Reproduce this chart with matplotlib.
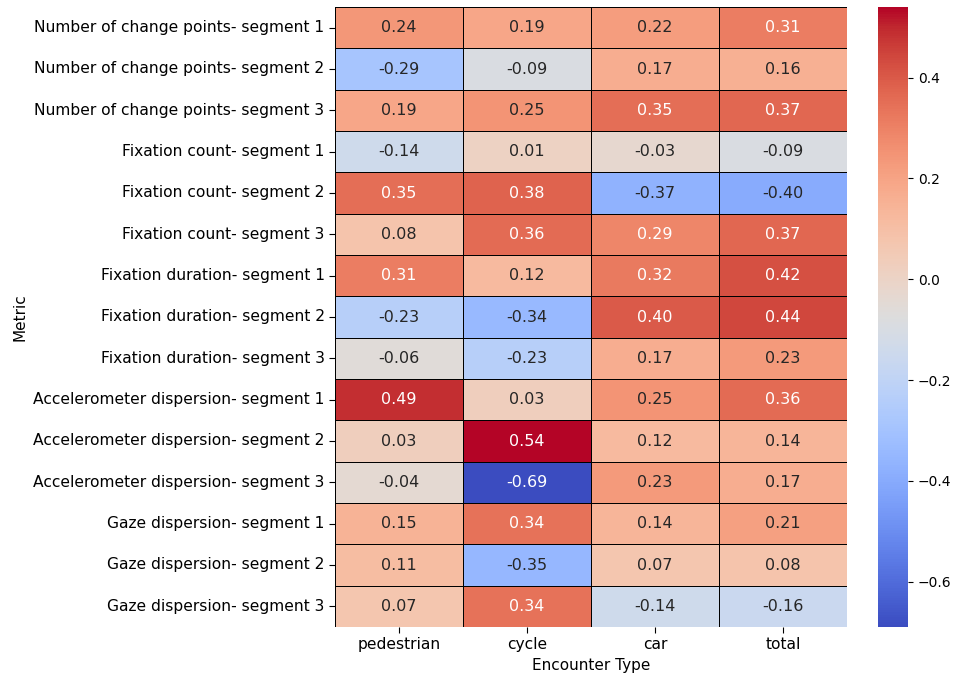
import matplotlib
matplotlib.use("Agg")
import matplotlib.pyplot as plt
import seaborn as sns
import numpy as np
import pandas as pd

metrics = [
    "Number of change points- segment 1",
    "Number of change points- segment 2",
    "Number of change points- segment 3",
    "Fixation count- segment 1",
    "Fixation count- segment 2",
    "Fixation count- segment 3",
    "Fixation duration- segment 1",
    "Fixation duration- segment 2",
    "Fixation duration- segment 3",
    "Accelerometer dispersion- segment 1",
    "Accelerometer dispersion- segment 2",
    "Accelerometer dispersion- segment 3",
    "Gaze dispersion- segment 1",
    "Gaze dispersion- segment 2",
    "Gaze dispersion- segment 3",
]
encounters = ["pedestrian", "cycle", "car", "total"]

pedestrian = [0.24, -0.29, 0.19, -0.14, 0.35, 0.08, 0.31, -0.23, -0.06, 0.49, 0.03, -0.04, 0.15, 0.11, 0.07]
cycle = [0.19, -0.09, 0.25, 0.01, 0.38, 0.36, 0.12, -0.34, -0.23, 0.03, 0.54, -0.69, 0.34, -0.35, 0.34]
car = [0.22, 0.17, 0.35, -0.03, -0.37, 0.29, 0.32, 0.40, 0.17, 0.25, 0.12, 0.23, 0.14, 0.07, -0.14]
total = [0.31, 0.16, 0.37, -0.09, -0.40, 0.37, 0.42, 0.44, 0.23, 0.36, 0.14, 0.17, 0.21, 0.08, -0.16]

df = pd.DataFrame({"pedestrian": pedestrian, "cycle": cycle, "car": car, "total": total}, index=metrics)
df.index.name = "Metric"
df.columns.name = "Encounter Type"

W, H = 956, 677
fig = plt.figure(figsize=(W / 100, H / 100), dpi=100)
ax = fig.add_axes([335 / W, 50 / H, (847 - 335) / W, 620 / H])
cax = fig.add_axes([878 / W, 50 / H, 30 / W, 620 / H])

sns.heatmap(df, ax=ax, cbar_ax=cax, cmap="coolwarm", annot=True, fmt=".2f",
            linewidths=0.6, linecolor="black", annot_kws={"fontsize": 11.5})
ax.tick_params(axis="both", labelsize=11.2, length=4)
ax.set_yticklabels(ax.get_yticklabels(), rotation=0)
ax.set_xlabel("Encounter Type", fontsize=11)
ax.set_ylabel("Metric", fontsize=11)
cax.tick_params(labelsize=10)
cax.set_yticks([-0.6, -0.4, -0.2, 0.0, 0.2, 0.4])
cax.set_yticklabels(["\u22120.6", "\u22120.4", "\u22120.2", "0.0", "0.2", "0.4"])

fig.savefig("out.png", dpi=100)
